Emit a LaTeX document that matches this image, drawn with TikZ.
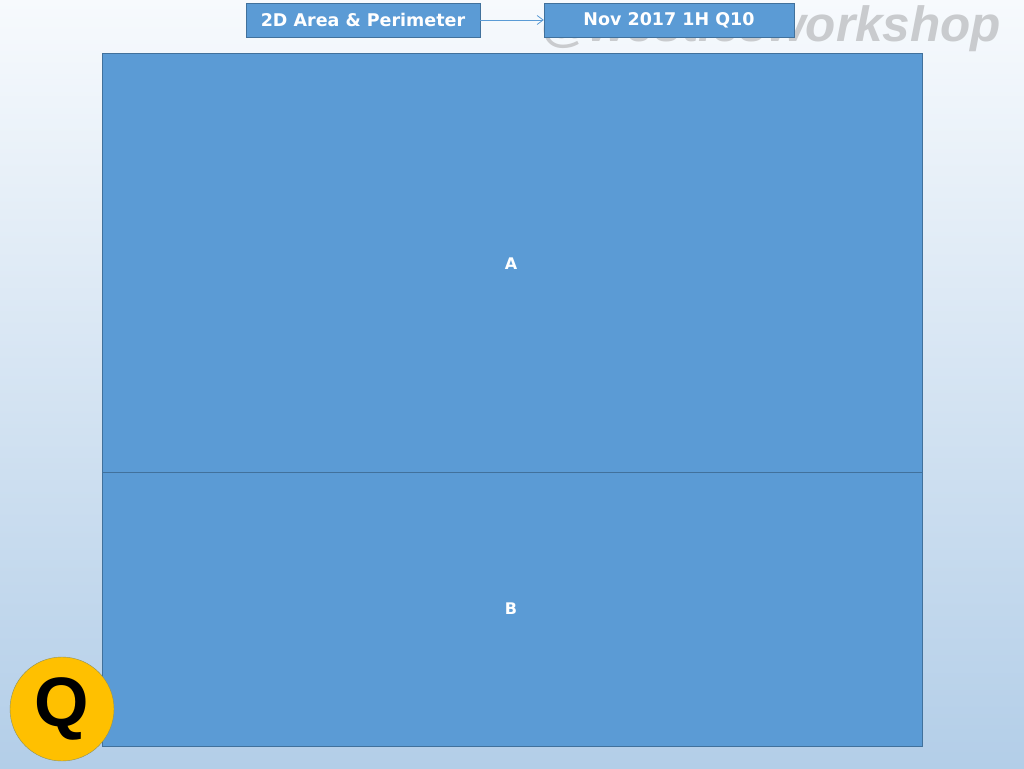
\documentclass[tikz,border=0pt]{standalone}
\usepackage{fontspec}
\setmainfont{DejaVu Sans}
\newfontfamily\wmfont{Liberation Sans}
\usetikzlibrary{arrows.meta}
\definecolor{boxblue}{HTML}{5B9BD5}
\definecolor{boxedge}{HTML}{41719C}
\definecolor{bgtop}{HTML}{F7FAFD}
\definecolor{bgbot}{HTML}{B3CEE8}
\definecolor{qyellow}{HTML}{FFC000}
\definecolor{wmgray}{HTML}{C9CBCE}
\tikzset{
  topbox/.style={draw=boxedge, fill=boxblue, text=white, font=\bfseries\fontsize{17.5}{20}\selectfont, inner sep=0pt},
  panel/.style={draw=boxedge, fill=boxblue},
  lbl/.style={text=white, font=\bfseries\fontsize{16}{18}\selectfont},
}
\begin{document}
\begin{tikzpicture}[x=1pt,y=-1pt]
\useasboundingbox (0,0) rectangle (1024,768);
\shade[top color=bgtop, bottom color=bgbot] (0,0) rectangle (1024,768);
\node[text=wmgray, font=\wmfont\bfseries\itshape\fontsize{49.5}{54}\selectfont, anchor=west, inner sep=0pt] (wm) at (540,29) {@westiesworkshop};
\node[topbox, minimum width=234, minimum height=34] (t1) at (363,20) {2D Area \& Perimeter};
\node[topbox, minimum width=250, minimum height=34] (t2) at (669,20) {Nov 2017 1H Q10};
\draw[-{Straight Barb[length=6pt,width=9pt]}, boxblue, line width=0.8pt] (t1.east) -- (t2.west);
\node[panel, minimum width=820, minimum height=419, inner sep=0pt] (A) at (512,262.5) {};
\node[panel, minimum width=820, minimum height=274, inner sep=0pt] (B) at (512,609) {};
\node[lbl] (la) at (511,264) {A};
\node[lbl] (lb) at (511,609) {B};
\node[circle, draw=boxedge!60!qyellow, fill=qyellow, minimum size=104, inner sep=0pt, font=\wmfont\bfseries\fontsize{70}{74}\selectfont] (q) at (62,709) {Q};
\end{tikzpicture}
\end{document}
